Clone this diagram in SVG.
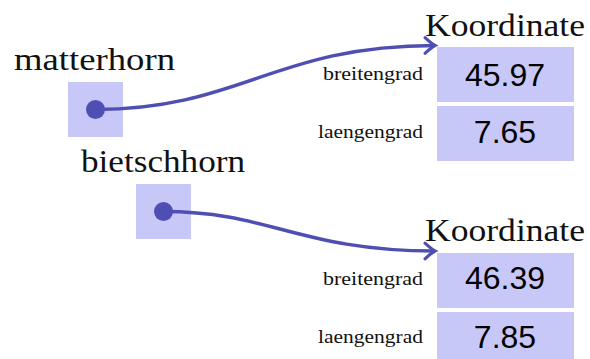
<svg xmlns="http://www.w3.org/2000/svg" width="590" height="359" viewBox="0 0 590 359">
<style>
.box{fill:#c8c8f8;}
.dot{fill:#4f4fb3;}
.conn{fill:none;stroke:#4f4fb3;stroke-width:3.4;}
.lbl{font-family:"Liberation Serif","Times New Roman",serif;font-size:32px;fill:#111;}
.fld{font-family:"Liberation Serif","Times New Roman",serif;font-size:19px;fill:#111;}
.num{font-family:"Liberation Sans",Arial,sans-serif;font-size:32px;fill:#000;text-anchor:middle;}
</style>
<defs>
<marker id="arr" markerUnits="userSpaceOnUse" markerWidth="20" markerHeight="20" refX="0" refY="0" viewBox="-11 -9 13 18" orient="auto" overflow="visible">
<path d="M-9,-7 Q-3,-1.5 0,0 Q-3,1.5 -9,7" fill="none" stroke="#4f4fb3" stroke-width="2.8" stroke-linecap="round"/>
</marker>
</defs>
<rect width="590" height="359" fill="#fff"/>
<g id="matterhorn">
<text class="lbl" x="14" y="70" textLength="161" lengthAdjust="spacingAndGlyphs">matterhorn</text>
<rect class="box" x="68" y="82" width="55" height="55"/>
<circle class="dot" cx="95.5" cy="109.5" r="9.5"/>
</g>
<g id="bietschhorn">
<text class="lbl" x="81" y="172" textLength="164" lengthAdjust="spacingAndGlyphs">bietschhorn</text>
<rect class="box" x="136" y="184" width="55" height="55"/>
<circle class="dot" cx="163.5" cy="211.5" r="9.5"/>
</g>
<g id="koordinate1">
<text class="lbl" x="425" y="36" textLength="160" lengthAdjust="spacingAndGlyphs">Koordinate</text>
<rect class="box" x="437" y="47" width="137" height="55"/>
<rect class="box" x="437" y="106" width="137" height="55"/>
<text class="fld" x="423" y="80" text-anchor="end" textLength="100" lengthAdjust="spacingAndGlyphs">breitengrad</text>
<text class="fld" x="423" y="138" text-anchor="end" textLength="105" lengthAdjust="spacingAndGlyphs">laengengrad</text>
<text class="num" x="505" y="86">45.97</text>
<text class="num" x="505" y="143">7.65</text>
</g>
<g id="koordinate2">
<text class="lbl" x="425" y="241" textLength="160" lengthAdjust="spacingAndGlyphs">Koordinate</text>
<rect class="box" x="437" y="253" width="137" height="55"/>
<rect class="box" x="437" y="312" width="137" height="47"/>
<text class="fld" x="423" y="284.5" text-anchor="end" textLength="100" lengthAdjust="spacingAndGlyphs">breitengrad</text>
<text class="fld" x="423" y="342.5" text-anchor="end" textLength="105" lengthAdjust="spacingAndGlyphs">laengengrad</text>
<text class="num" x="505" y="289">46.39</text>
<text class="num" x="505" y="348">7.85</text>
</g>
<g id="connectors">
<path class="conn" d="M95.5,109.5 C240,109.5 275,45.5 435,45.5" marker-end="url(#arr)"/>
<path class="conn" d="M163.5,211.5 C270,211.5 300,251 435,251" marker-end="url(#arr)"/>
</g>
</svg>
